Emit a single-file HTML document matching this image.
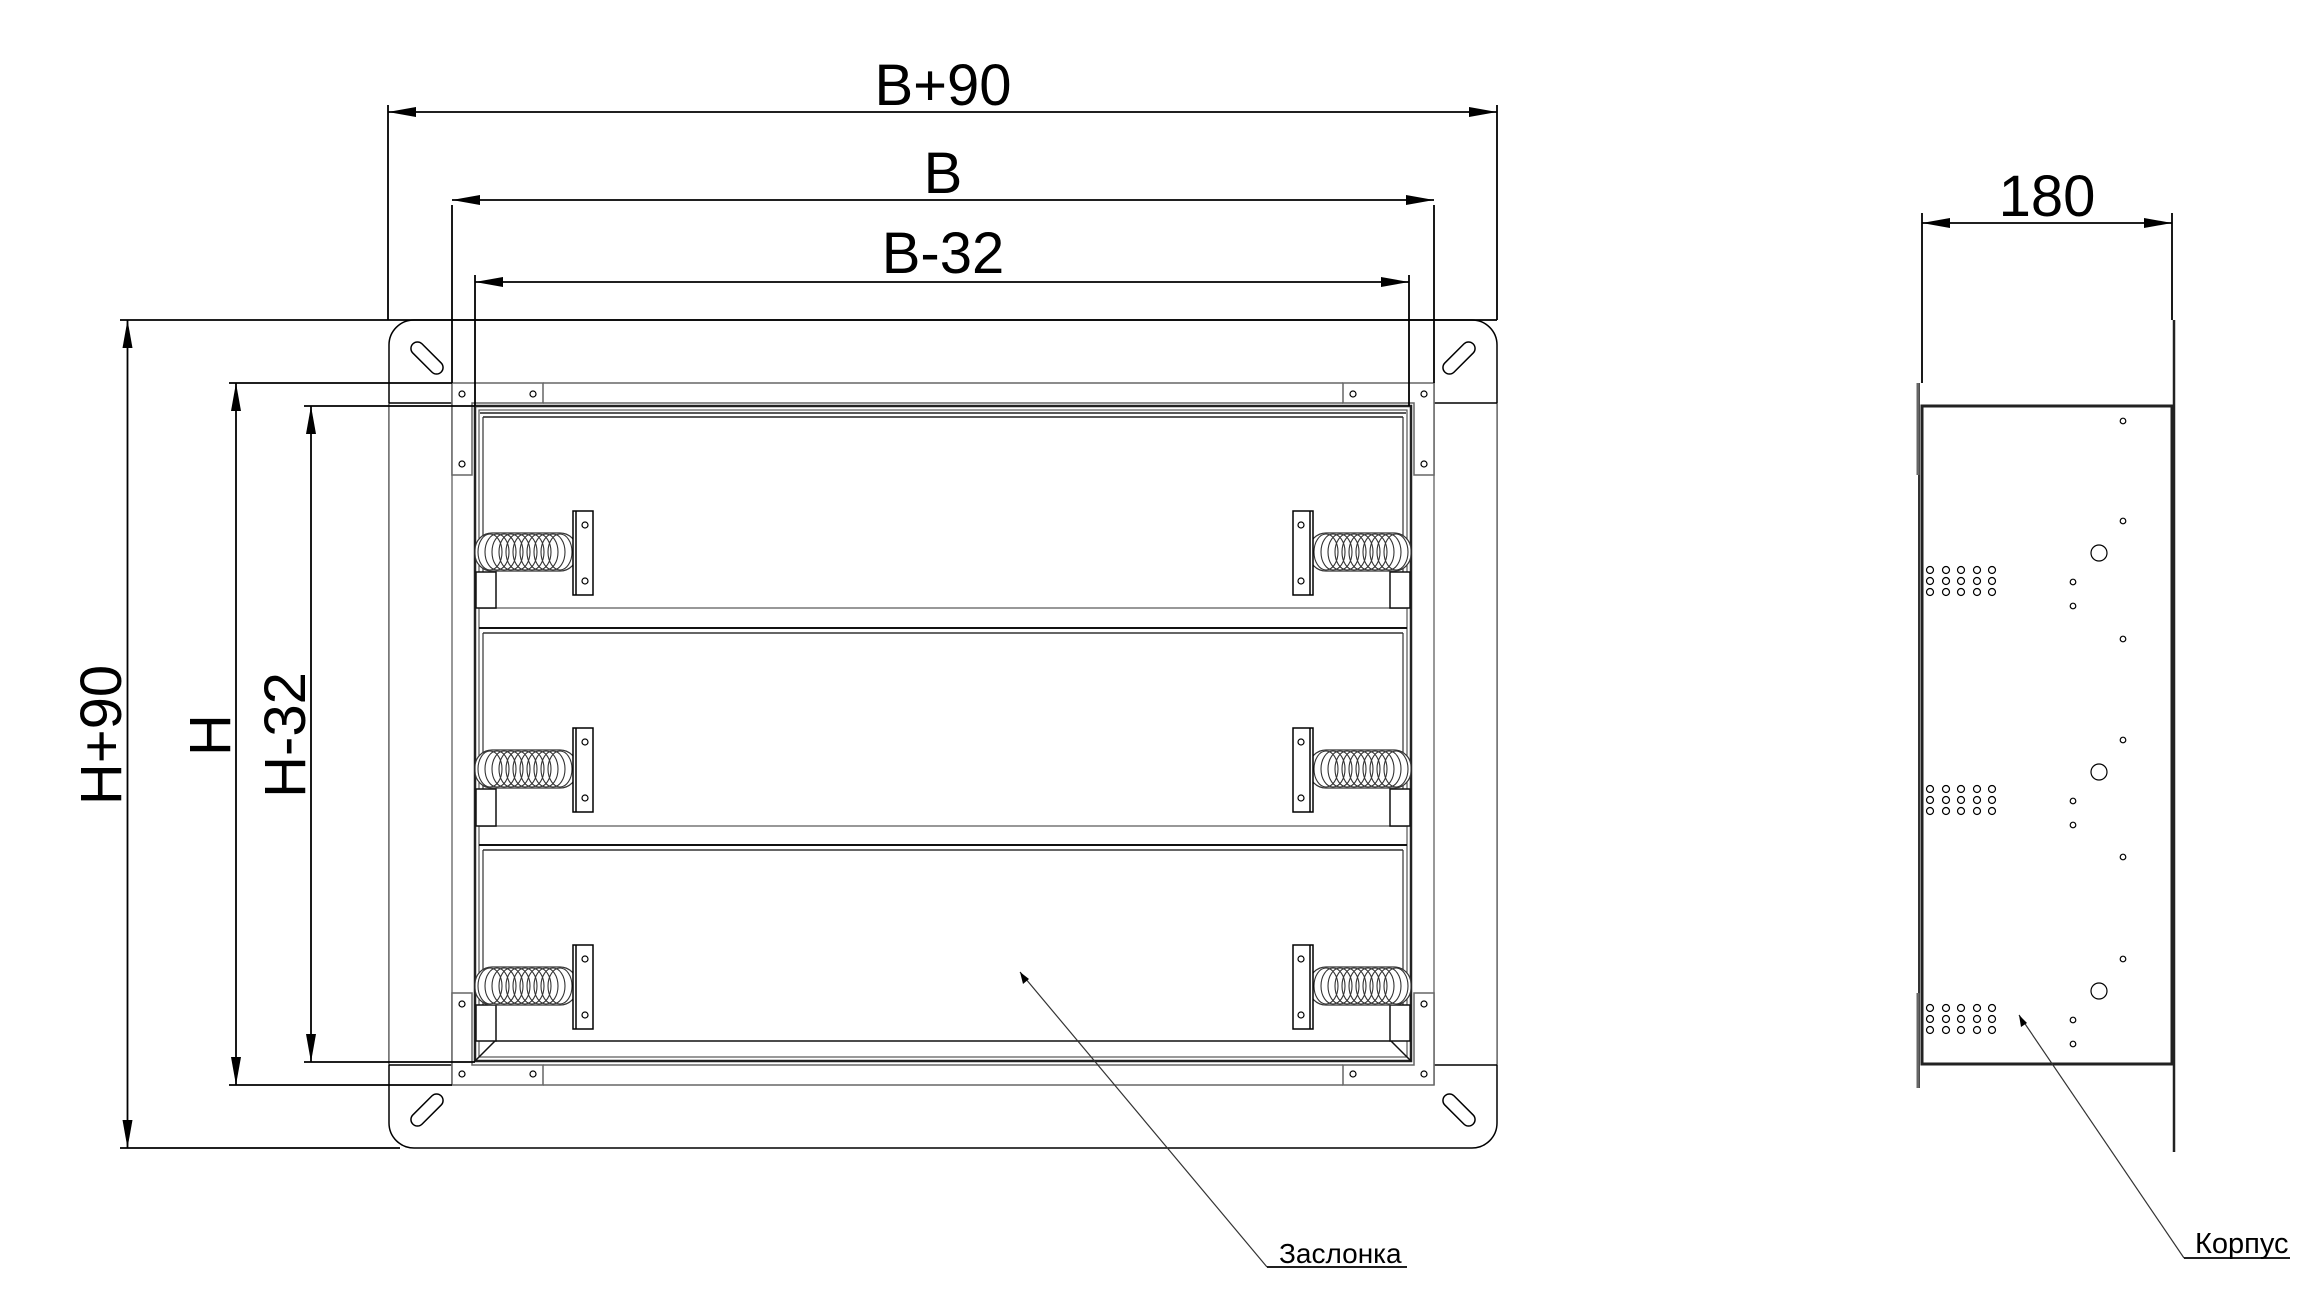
<!DOCTYPE html>
<html><head><meta charset="utf-8"><style>
html,body{margin:0;padding:0;background:#fff;}
svg{display:block;}
text{font-family:"Liberation Sans",sans-serif;fill:#000;}
</style></head><body>
<svg width="2316" height="1308" viewBox="0 0 2316 1308" xmlns="http://www.w3.org/2000/svg">
<defs>
<g id="slot"><rect x="-20" y="-6.5" width="40" height="13" rx="6.5" fill="none" stroke="#000" stroke-width="1.5"/></g>
<g id="spring">
 <rect x="475" y="-19" width="102" height="38" rx="17" fill="#fff" stroke="#333" stroke-width="1.2"/>
 <g fill="none" stroke="#333" stroke-width="1.1">
  <ellipse cx="490" cy="0" rx="12" ry="18"/><ellipse cx="497" cy="0" rx="12" ry="18"/><ellipse cx="504" cy="0" rx="12" ry="18"/>
  <ellipse cx="511" cy="0" rx="12" ry="18"/><ellipse cx="518" cy="0" rx="12" ry="18"/><ellipse cx="525" cy="0" rx="12" ry="18"/>
  <ellipse cx="532" cy="0" rx="12" ry="18"/><ellipse cx="539" cy="0" rx="12" ry="18"/><ellipse cx="546" cy="0" rx="12" ry="18"/>
  <ellipse cx="553" cy="0" rx="12" ry="18"/><ellipse cx="560" cy="0" rx="12" ry="18"/>
 </g>
 <rect x="573" y="-41" width="20" height="84" fill="#fff" stroke="#000" stroke-width="1.5"/>
 <line x1="576" y1="-41" x2="576" y2="43" stroke="#000" stroke-width="1.5"/>
 <circle cx="585" cy="-27" r="3" fill="none" stroke="#000" stroke-width="1.2"/>
 <circle cx="585" cy="29" r="3" fill="none" stroke="#000" stroke-width="1.2"/>
</g>
<g id="holes">
 <g fill="none" stroke="#000" stroke-width="1.2">
  <circle cx="1930" cy="570" r="3.5"/><circle cx="1946" cy="570" r="3.5"/><circle cx="1961" cy="570" r="3.5"/><circle cx="1977" cy="570" r="3.5"/><circle cx="1992" cy="570" r="3.5"/>
  <circle cx="1930" cy="581" r="3.5"/><circle cx="1946" cy="581" r="3.5"/><circle cx="1961" cy="581" r="3.5"/><circle cx="1977" cy="581" r="3.5"/><circle cx="1992" cy="581" r="3.5"/>
  <circle cx="1930" cy="592" r="3.5"/><circle cx="1946" cy="592" r="3.5"/><circle cx="1961" cy="592" r="3.5"/><circle cx="1977" cy="592" r="3.5"/><circle cx="1992" cy="592" r="3.5"/>
  <circle cx="2099" cy="553" r="8"/>
  <circle cx="2123" cy="521" r="2.8"/><circle cx="2073" cy="582" r="2.8"/><circle cx="2073" cy="606" r="2.8"/>
 </g>
</g>
</defs>

<!-- flange -->
<rect x="389" y="320" width="1108" height="828" rx="25" fill="none" stroke="#000" stroke-width="1.5"/>
<rect x="389" y="403" width="1108" height="662" fill="#fff" stroke="none"/>
<line x1="389" y1="403" x2="389" y2="1065" stroke="#777" stroke-width="1.5"/>
<line x1="1497" y1="403" x2="1497" y2="1065" stroke="#777" stroke-width="1.5"/>
<line x1="389" y1="403" x2="452" y2="403" stroke="#000" stroke-width="1.5"/>
<line x1="1434" y1="403" x2="1497" y2="403" stroke="#000" stroke-width="1.5"/>
<line x1="389" y1="1065" x2="452" y2="1065" stroke="#000" stroke-width="1.5"/>
<line x1="1434" y1="1065" x2="1497" y2="1065" stroke="#000" stroke-width="1.5"/>
<use href="#slot" transform="translate(427,358) rotate(45)"/>
<use href="#slot" transform="translate(1459,358) rotate(-45)"/>
<use href="#slot" transform="translate(427,1110) rotate(-45)"/>
<use href="#slot" transform="translate(1459,1110) rotate(45)"/>

<!-- frame outer -->
<line x1="452" y1="383" x2="452" y2="1085" stroke="#777" stroke-width="1.5"/>
<line x1="1434" y1="383" x2="1434" y2="1085" stroke="#777" stroke-width="1.5"/>
<g fill="#fff" stroke="#666" stroke-width="1.5">
 <path d="M452 383 H543 V403 H472 V475 H452 Z"/>
 <path d="M1434 383 H1343 V403 H1414 V475 H1434 Z"/>
 <path d="M452 1085 H543 V1065 H472 V993 H452 Z"/>
 <path d="M1434 1085 H1343 V1065 H1414 V993 H1434 Z"/>
</g>
<g fill="none" stroke="#000" stroke-width="1.2">
 <circle cx="462" cy="394" r="3"/><circle cx="533" cy="394" r="3"/><circle cx="462" cy="464" r="3"/>
 <circle cx="1424" cy="394" r="3"/><circle cx="1353" cy="394" r="3"/><circle cx="1424" cy="464" r="3"/>
 <circle cx="462" cy="1074" r="3"/><circle cx="533" cy="1074" r="3"/><circle cx="462" cy="1004" r="3"/>
 <circle cx="1424" cy="1074" r="3"/><circle cx="1353" cy="1074" r="3"/><circle cx="1424" cy="1004" r="3"/>
</g>
<line x1="543" y1="383" x2="1343" y2="383" stroke="#666" stroke-width="1.5"/>
<line x1="543" y1="403" x2="1343" y2="403" stroke="#666" stroke-width="1.5"/>
<line x1="543" y1="1065" x2="1343" y2="1065" stroke="#666" stroke-width="1.5"/>
<line x1="543" y1="1085" x2="1343" y2="1085" stroke="#666" stroke-width="1.5"/>

<!-- inner frame -->
<rect x="475" y="406" width="936" height="655" fill="#fff" stroke="#222" stroke-width="2.5"/>
<rect x="479" y="410" width="928" height="647" fill="none" stroke="#555" stroke-width="1.2"/>
<!-- blade 1 -->
<line x1="480" y1="413" x2="1406" y2="413" stroke="#222" stroke-width="1.5"/>
<line x1="483" y1="417" x2="1403" y2="417" stroke="#222" stroke-width="1.5"/>
<line x1="480" y1="608" x2="1406" y2="608" stroke="#777" stroke-width="1.5"/>
<line x1="483" y1="417" x2="483" y2="608" stroke="#333" stroke-width="1.2"/>
<line x1="1403" y1="417" x2="1403" y2="608" stroke="#333" stroke-width="1.2"/>
<!-- blade 2 -->
<line x1="479" y1="628" x2="1407" y2="628" stroke="#111" stroke-width="2"/>
<line x1="483" y1="633" x2="1403" y2="633" stroke="#333" stroke-width="1.5"/>
<line x1="480" y1="826" x2="1406" y2="826" stroke="#777" stroke-width="1.5"/>
<line x1="483" y1="633" x2="483" y2="826" stroke="#333" stroke-width="1.2"/>
<line x1="1403" y1="633" x2="1403" y2="826" stroke="#333" stroke-width="1.2"/>
<!-- blade 3 -->
<line x1="479" y1="845" x2="1407" y2="845" stroke="#111" stroke-width="2"/>
<line x1="483" y1="850" x2="1403" y2="850" stroke="#333" stroke-width="1.5"/>
<line x1="483" y1="850" x2="483" y2="1041" stroke="#333" stroke-width="1.2"/>
<line x1="1403" y1="850" x2="1403" y2="1041" stroke="#333" stroke-width="1.2"/>
<path d="M475 1061 L495 1041 H1391 L1411 1061" fill="none" stroke="#111" stroke-width="1.5"/>
<!-- blocks under springs -->
<g fill="#fff" stroke="#111" stroke-width="1.5">
 <rect x="476" y="572" width="20" height="36"/><rect x="1390" y="572" width="20" height="36"/>
 <rect x="476" y="789" width="20" height="37"/><rect x="1390" y="789" width="20" height="37"/>
 <rect x="476" y="1005" width="20" height="36"/><rect x="1390" y="1005" width="20" height="36"/>
</g>
<!-- springs -->
<use href="#spring" transform="translate(0,552)"/>
<use href="#spring" transform="translate(0,769)"/>
<use href="#spring" transform="translate(0,986)"/>
<use href="#spring" transform="translate(1886,552) scale(-1,1)"/>
<use href="#spring" transform="translate(1886,769) scale(-1,1)"/>
<use href="#spring" transform="translate(1886,986) scale(-1,1)"/>

<!-- dimension lines -->
<g stroke="#000" stroke-width="1.8">
 <line x1="388" y1="105" x2="388" y2="320"/><line x1="1497" y1="105" x2="1497" y2="320"/>
 <line x1="452" y1="205" x2="452" y2="383"/><line x1="1434" y1="205" x2="1434" y2="383"/>
 <line x1="475" y1="275" x2="475" y2="406"/><line x1="1409" y1="275" x2="1409" y2="406"/>
 <line x1="388" y1="112" x2="1497" y2="112"/>
 <line x1="452" y1="200" x2="1434" y2="200"/>
 <line x1="475" y1="282" x2="1409" y2="282"/>
 <line x1="120" y1="320" x2="1497" y2="320"/>
 <line x1="120" y1="1148" x2="400" y2="1148"/>
 <line x1="229" y1="383" x2="452" y2="383"/>
 <line x1="229" y1="1085" x2="452" y2="1085"/>
 <line x1="304" y1="406" x2="475" y2="406"/>
 <line x1="304" y1="1062" x2="475" y2="1062"/>
 <line x1="127.5" y1="320" x2="127.5" y2="1148"/>
 <line x1="236" y1="383" x2="236" y2="1085"/>
 <line x1="311" y1="406" x2="311" y2="1062"/>
 <line x1="1922" y1="213" x2="1922" y2="383"/><line x1="2172" y1="213" x2="2172" y2="320"/>
 <line x1="1922" y1="223" x2="2172" y2="223"/>
</g>
<g fill="#000">
 <path d="M388 112 l28 -5 v10 z"/><path d="M1497 112 l-28 -5 v10 z"/>
 <path d="M452 200 l28 -5 v10 z"/><path d="M1434 200 l-28 -5 v10 z"/>
 <path d="M475 282 l28 -5 v10 z"/><path d="M1409 282 l-28 -5 v10 z"/>
 <path d="M127.5 320 l-5 28 h10 z"/><path d="M127.5 1148 l-5 -28 h10 z"/>
 <path d="M236 383 l-5 28 h10 z"/><path d="M236 1085 l-5 -28 h10 z"/>
 <path d="M311 406 l-5 28 h10 z"/><path d="M311 1062 l-5 -28 h10 z"/>
 <path d="M1922 223 l28 -5 v10 z"/><path d="M2172 223 l-28 -5 v10 z"/>
</g>
<text x="943" y="105" font-size="58" text-anchor="middle">B+90</text>
<text x="943" y="193" font-size="58" text-anchor="middle">B</text>
<text x="943" y="273" font-size="58" text-anchor="middle">B-32</text>
<text x="2047" y="216" font-size="58" text-anchor="middle">180</text>
<text transform="translate(121,735) rotate(-90)" font-size="58" text-anchor="middle">H+90</text>
<text transform="translate(230,735) rotate(-90)" font-size="58" text-anchor="middle">H</text>
<text transform="translate(305,735) rotate(-90)" font-size="58" text-anchor="middle">H-32</text>

<!-- side view -->
<line x1="1919" y1="383" x2="1919" y2="1088" stroke="#333" stroke-width="2"/>
<line x1="1918" y1="383" x2="1918" y2="475" stroke="#666" stroke-width="3"/>
<line x1="1918" y1="993" x2="1918" y2="1088" stroke="#666" stroke-width="3"/>
<line x1="2174" y1="320" x2="2174" y2="1152" stroke="#222" stroke-width="2.5"/>
<rect x="1922" y="406" width="250" height="658" fill="none" stroke="#222" stroke-width="3"/>
<use href="#holes"/>
<use href="#holes" transform="translate(0,219)"/>
<use href="#holes" transform="translate(0,438)"/>
<g fill="none" stroke="#000" stroke-width="1.2">
 <circle cx="2123" cy="421" r="2.8"/><circle cx="2123" cy="639" r="2.8"/><circle cx="2123" cy="857" r="2.8"/>
</g>

<!-- leaders -->
<g stroke="#333" stroke-width="1.2" fill="none">
 <line x1="1020" y1="972" x2="1267" y2="1267"/>
 <line x1="2019" y1="1015" x2="2184" y2="1258"/>
</g>
<line x1="1267" y1="1267" x2="1407" y2="1267" stroke="#000" stroke-width="1.8"/>
<line x1="2184" y1="1258" x2="2290" y2="1258" stroke="#000" stroke-width="1.8"/>
<path d="M1020 972 l3 12 l6 -5 z" fill="#000"/>
<path d="M2019 1015 l2 12 l6 -4 z" fill="#000"/>
<text x="1279" y="1263" font-size="28">Заслонка</text>
<text x="2195" y="1253" font-size="29">Корпус</text>
</svg>
</body></html>
